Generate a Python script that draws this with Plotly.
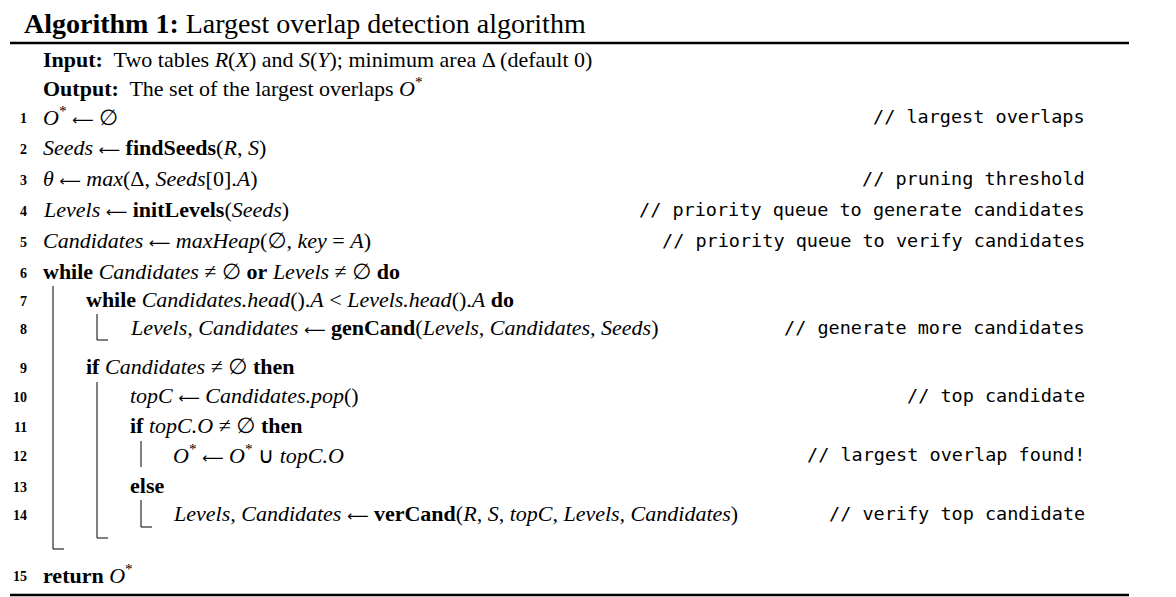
import plotly.graph_objects as go

AR = '<span style="font-family:DejaVu Sans;font-size:15px">⟵</span>'
NULL = '<span style="font-family:DejaVu Sans">∅</span>'

# algorithm text, one entry per printed line
line_nums = ["", "", "1", "2", "3", "4", "5", "6", "7", "8", "9", "10", "11", "12", "13", "14", "15"]
indents = [0, 0, 0, 0, 0, 0, 0, 0, 1, 2, 1, 2, 2, 3, 2, 3, 0]
code = [
    "<b>Input:</b>  Two tables <i>R</i>(<i>X</i>) and <i>S</i>(<i>Y</i>); minimum area Δ (default 0)",
    "<b>Output:</b>  The set of the largest overlaps <i>O</i><sup>*</sup>",
    f"<i>O</i><sup>*</sup> {AR} {NULL}",
    f"<i>Seeds</i> {AR} <b>findSeeds</b>(<i>R</i>, <i>S</i>)",
    f"<i>θ</i> {AR} <i>max</i>(Δ, <i>Seeds</i>[0].<i>A</i>)",
    f"<i>Levels</i> {AR} <b>initLevels</b>(<i>Seeds</i>)",
    f"<i>Candidates</i> {AR} <i>maxHeap</i>({NULL}, <i>key</i> = <i>A</i>)",
    f"<b>while</b> <i>Candidates</i> ≠ {NULL} <b>or</b> <i>Levels</i> ≠ {NULL} <b>do</b>",
    "<b>while</b> <i>Candidates.head</i>().<i>A</i> &lt; <i>Levels.head</i>().<i>A</i> <b>do</b>",
    f"<i>Levels, Candidates</i> {AR} <b>genCand</b>(<i>Levels, Candidates, Seeds</i>)",
    f"<b>if</b> <i>Candidates</i> ≠ {NULL} <b>then</b>",
    f"<i>topC</i> {AR} <i>Candidates.pop</i>()",
    f"<b>if</b> <i>topC.O</i> ≠ {NULL} <b>then</b>",
    f"<i>O</i><sup>*</sup> {AR} <i>O</i><sup>*</sup> ∪ <i>topC.O</i>",
    "<b>else</b>",
    f"<i>Levels, Candidates</i> {AR} <b>verCand</b>(<i>R</i>, <i>S</i>, <i>topC, Levels, Candidates</i>)",
    "<b>return</b> <i>O</i><sup>*</sup>",
]
comments = ["", "", "// largest overlaps", "", "// pruning threshold",
            "// priority queue to generate candidates", "// priority queue to verify candidates",
            "", "", "// generate more candidates", "", "// top candidate", "",
            "// largest overlap found!", "", "// verify top candidate", ""]

# block bars: (level, first row, bar end in px, closing tick)
blocks = [(1, 8, 549, True), (2, 9, 340, True), (2, 11, 538, True), (3, 13, 467, False), (3, 15, 527, True)]

# layout (pixels, page coordinates)
row_y = [59, 87, 116, 147, 178, 209, 240, 271, 299, 327, 366, 395, 425, 454, 485, 513, 574]
text_x = [41, 84, 128, 171]
bar_x = [None, 53, 97, 141]
serif = "Liberation Serif"
mono = "DejaVu Sans Mono"
OFF = 8  # page body margin

fig = go.Figure()
ann = []
shapes = []

ann.append(dict(x=22, y=23, text="<b>Algorithm 1:</b> Largest overlap detection algorithm",
                xanchor="left", yanchor="middle", font=dict(family=serif, size=28, color="black")))

for i, txt in enumerate(code):
    y = row_y[i]
    ann.append(dict(x=text_x[indents[i]], y=y, text=txt, xanchor="left", yanchor="middle",
                    font=dict(family=serif, size=22, color="black")))
    if line_nums[i]:
        ann.append(dict(x=29, y=y + 2, text="<b>" + line_nums[i] + "</b>", xanchor="right",
                        yanchor="middle", font=dict(family=serif, size=14, color="black")))
    if comments[i]:
        ann.append(dict(x=1087, y=y, text=comments[i], xanchor="right", yanchor="middle",
                        font=dict(family=mono, size=18.5, color="black")))

for a in ann:
    a.update(xref="x", yref="y", showarrow=False)

# rules
for y in [4, 43, 595]:
    shapes.append(dict(type="line", xref="x", yref="y", x0=10, x1=1129, y0=y, y1=y,
                       line=dict(color="black", width=2.5)))

# indentation bars
for lvl, r0, y1, tick in blocks:
    x = bar_x[lvl]
    y0 = row_y[r0] - 13
    shapes.append(dict(type="line", xref="x", yref="y", x0=x, x1=x, y0=y0, y1=y1,
                       line=dict(color="black", width=1)))
    if tick:
        shapes.append(dict(type="line", xref="x", yref="y", x0=x, x1=x + 11, y0=y1, y1=y1,
                           line=dict(color="black", width=1)))

fig.update_layout(
    width=1176, height=597,
    margin=dict(l=0, r=0, t=0, b=0),
    paper_bgcolor="white", plot_bgcolor="white",
    xaxis=dict(range=[OFF, 1176 + OFF], visible=False, fixedrange=True),
    yaxis=dict(range=[597 + OFF, OFF], visible=False, fixedrange=True),
    annotations=ann, shapes=shapes, showlegend=False,
)
fig.write_html("out.html")
